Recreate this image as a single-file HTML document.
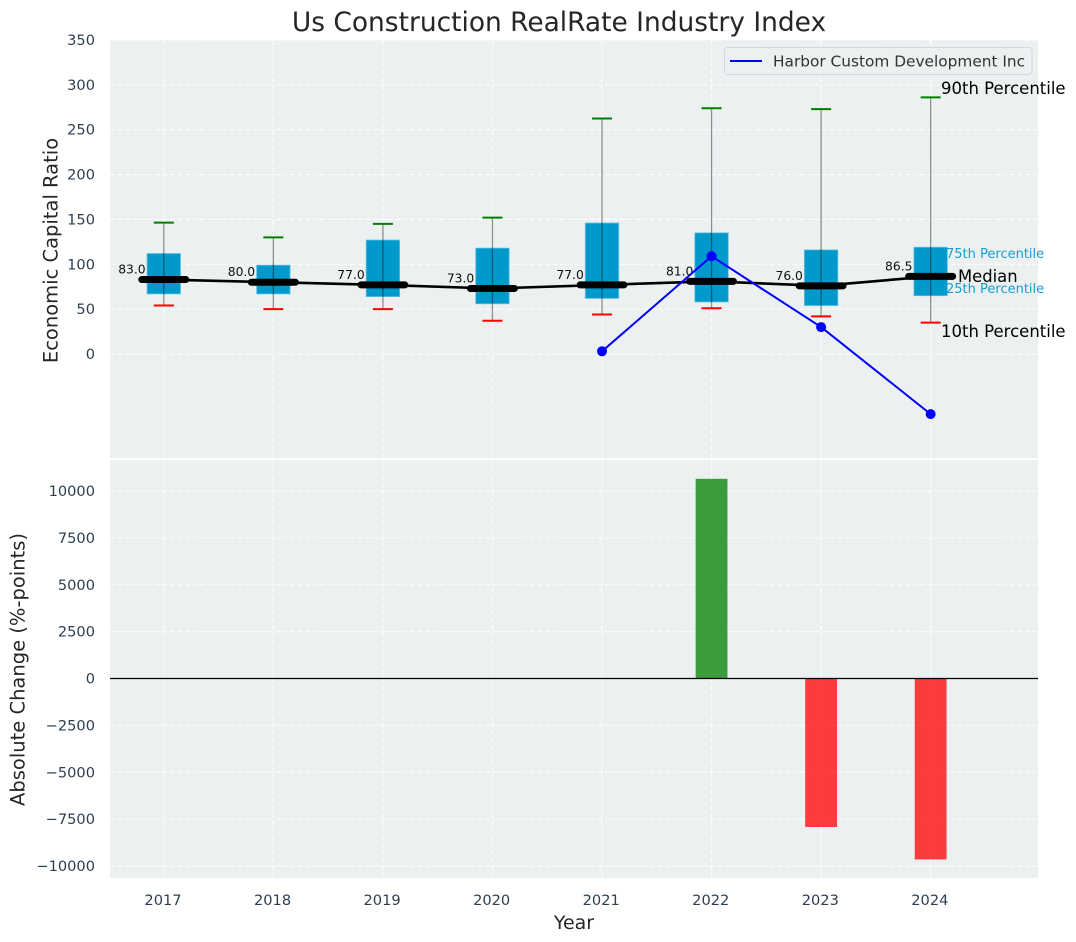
<!DOCTYPE html>
<html lang="en">
<head>
<meta charset="utf-8">
<title>Us Construction RealRate Industry Index</title>
<style>
html,body{margin:0;padding:0;background:#fff;width:1076px;height:942px;overflow:hidden}
svg{display:block;font-family:"DejaVu Sans","Liberation Sans",sans-serif}
</style>
</head>
<body>
<svg id="chart" xmlns="http://www.w3.org/2000/svg" width="1076" height="942" viewBox="0 0 1076 942"></svg>
<script>
const years = [2017, 2018, 2019, 2020, 2021, 2022, 2023, 2024];
const p90 = [146.5, 130, 145, 152, 262.5, 274, 273, 286];
const p75 = [112, 99, 127, 118, 146, 135, 116, 119];
const medians = [83, 80, 77, 73, 77, 81, 76, 86.5];
const p25 = [67, 67, 64, 56, 62, 58, 54, 65];
const p10 = [54, 50, 50, 37, 44, 51, 42, 35];
const company = [null, null, null, null, 3, 109, 30, -67];
const changes = [null, null, null, null, null, 10650, -7920, -9650];
const upperTicks = [0, 50, 100, 150, 200, 250, 300, 350];
const lowerTicks = [-10000, -7500, -5000, -2500, 0, 2500, 5000, 7500, 10000];

const svg = document.getElementById('chart');
const NS = 'http://www.w3.org/2000/svg';
const L = 110, R = 1038;
const uTop = 40, uBot = 458, lTop = 460, lBot = 878;

function x(year) { return 163.8 + (year - 2017) * 109.55; }
function yU(v) { return 354 - v * 0.8971; }
function yL(v) { return 678.5 - v * 0.01875; }

function add(tag, attrs, parent) {
  const el = document.createElementNS(NS, tag);
  for (const k in attrs) el.setAttribute(k, attrs[k]);
  (parent || svg).appendChild(el);
  return el;
}
function fmt(v) { return String(v).replace('-', '\u2212'); }

/* panels */
let el = add('rect', {x: L, y: uTop, width: R - L, height: uBot - uTop, fill: '#ecf0f1'});


el = add('rect', {x: L, y: lTop, width: R - L, height: lBot - lTop, fill: '#ecf0f1'});



const gridStyle = {stroke: '#ffffff', 'stroke-width': 1.1, 'stroke-dasharray': '5 2.5', 'stroke-opacity': 0.9};

/* grid */
years.forEach(function (yr) {
  let g = add('line', Object.assign({x1: x(yr), x2: x(yr), y1: uTop, y2: uBot}, gridStyle));
  
  
  g = add('line', Object.assign({x1: x(yr), x2: x(yr), y1: lTop, y2: lBot}, gridStyle));
  
  
  const t = add('text', {x: x(yr) - 0.8, y: 905, 'text-anchor': 'middle', 'font-size': 14.6, fill: '#2c3e50'});
  t.textContent = yr;
  
  
});
upperTicks.forEach(function (v) {
  const g = add('line', Object.assign({x1: L, x2: R, y1: yU(v), y2: yU(v)}, gridStyle));
  
  
  const t = add('text', {x: 95, y: yU(v) + 5, 'text-anchor': 'end', 'font-size': 14.6, fill: '#2c3e50'});
  t.textContent = fmt(v);
  
  
});
lowerTicks.forEach(function (v) {
  const g = add('line', Object.assign({x1: L, x2: R, y1: yL(v), y2: yL(v)}, gridStyle));
  
  
  const t = add('text', {x: 95, y: yL(v) + 5, 'text-anchor': 'end', 'font-size': 14.6, fill: '#2c3e50'});
  t.textContent = fmt(v);
  
  
});

/* boxes */
years.forEach(function (yr, i) {
  const cx = x(yr);
  const box = add('rect', {x: cx - 16.7, y: yU(p75[i]), width: 33.4, height: yU(p25[i]) - yU(p75[i]), fill: '#0099cc', stroke: '#5dbfe0', 'stroke-width': 0.8});
  
  
  const w = add('line', {x1: cx, x2: cx, y1: yU(p90[i]), y2: yU(p10[i]), stroke: '#000000', 'stroke-opacity': 0.42, 'stroke-width': 1.3});
  
  
  const hi = add('line', {x1: cx - 10, x2: cx + 10, y1: yU(p90[i]), y2: yU(p90[i]), stroke: '#008000', 'stroke-width': 2});
  
  
  const lo = add('line', {x1: cx - 10, x2: cx + 10, y1: yU(p10[i]), y2: yU(p10[i]), stroke: '#ff0000', 'stroke-width': 2});
  
  
});

/* median trend */
const trend = add('polyline', {points: years.map(function (yr, i) { return x(yr) + ',' + yU(medians[i]); }).join(' '), fill: 'none', stroke: '#000000', 'stroke-width': 2.6});


years.forEach(function (yr, i) {
  const cx = x(yr), cy = yU(medians[i]);
  const m = add('line', {x1: cx - 22, x2: cx + 22, y1: cy, y2: cy, stroke: '#000000', 'stroke-width': 7, 'stroke-linecap': 'round'});
  
  
  const t = add('text', {x: cx - 18.2, y: cy - 6, 'text-anchor': 'end', 'font-size': 12.3, fill: '#111111'});
  t.textContent = medians[i].toFixed(1);
  
  
});

/* company series */
const valid = years.map(function (yr, i) { return {yr: yr, v: company[i]}; }).filter(function (d) { return d.v !== null; });
const cLine = add('polyline', {points: valid.map(function (d) { return x(d.yr) + ',' + yU(d.v); }).join(' '), fill: 'none', stroke: '#0000ff', 'stroke-width': 2});


valid.forEach(function (d) {
  const c = add('circle', {cx: x(d.yr), cy: yU(d.v), r: 5, fill: '#0000ff'});
  
  
});

/* change bars */
changes.forEach(function (v, i) {
  if (v === null) return;
  const y0 = yL(Math.max(v, 0)), y1 = yL(Math.min(v, 0));
  const b = add('rect', {x: x(years[i]) - 15.9, y: y0, width: 31.8, height: y1 - y0, fill: v >= 0 ? '#008000' : '#ff0000', 'fill-opacity': 0.75});
  
  
});
el = add('line', {x1: L, x2: R, y1: yL(0), y2: yL(0), stroke: '#000000', 'stroke-width': 1.2});


</script>

<script>
/* static annotations and titles */
(function () {
  const s = document.getElementById('chart');
  const NS2 = 'http://www.w3.org/2000/svg';
  function label(txt, attrs, name) {
    const t = document.createElementNS(NS2, 'text');
    for (const k in attrs) t.setAttribute(k, attrs[k]);
    t.textContent = txt;
    
    
    s.appendChild(t);
  }
  label('Us Construction RealRate Industry Index', {x: 559, y: 31, 'text-anchor': 'middle', 'font-size': 26.45, fill: '#262626'}, 'chart-title');
  label('Economic Capital Ratio', {transform: 'translate(57.5,250.5) rotate(-90)', 'text-anchor': 'middle', 'font-size': 19.5, fill: '#262626'}, 'upper-y-axis-title');
  label('Absolute Change (%-points)', {transform: 'translate(24.5,669.5) rotate(-90)', 'text-anchor': 'middle', 'font-size': 19.5, fill: '#262626'}, 'lower-y-axis-title');
  label('Year', {x: 574, y: 929, 'text-anchor': 'middle', 'font-size': 19, fill: '#262626'}, 'x-axis-title');
  label('90th Percentile', {x: 941, y: 94, 'font-size': 16.5, fill: '#000'}, 'p90-annotation');
  label('75th Percentile', {x: 946, y: 258, 'font-size': 13, fill: '#1a9ed1'}, 'p75-annotation');
  label('Median', {x: 958, y: 282, 'font-size': 16.4, fill: '#000'}, 'median-annotation');
  label('25th Percentile', {x: 946, y: 293, 'font-size': 13, fill: '#1a9ed1'}, 'p25-annotation');
  label('10th Percentile', {x: 941, y: 337, 'font-size': 16.5, fill: '#000'}, 'p10-annotation');

  const box = document.createElementNS(NS2, 'rect');
  box.setAttribute('x', 724.5);
  box.setAttribute('y', 47.5);
  box.setAttribute('width', 307.5);
  box.setAttribute('height', 27);
  box.setAttribute('rx', 3);
  box.setAttribute('fill', '#ecf0f1');
  box.setAttribute('fill-opacity', 0.85);
  box.setAttribute('stroke', '#d5d8da');
  
  
  s.appendChild(box);
  const key = document.createElementNS(NS2, 'line');
  key.setAttribute('x1', 730);
  key.setAttribute('x2', 762);
  key.setAttribute('y1', 61);
  key.setAttribute('y2', 61);
  key.setAttribute('stroke', '#0000ff');
  key.setAttribute('stroke-width', 2);
  
  
  s.appendChild(key);
  label('Harbor Custom Development Inc', {x: 773, y: 66.5, 'font-size': 15.35, fill: '#333'}, 'legend-entry');
})();
</script>
</body>
</html>
